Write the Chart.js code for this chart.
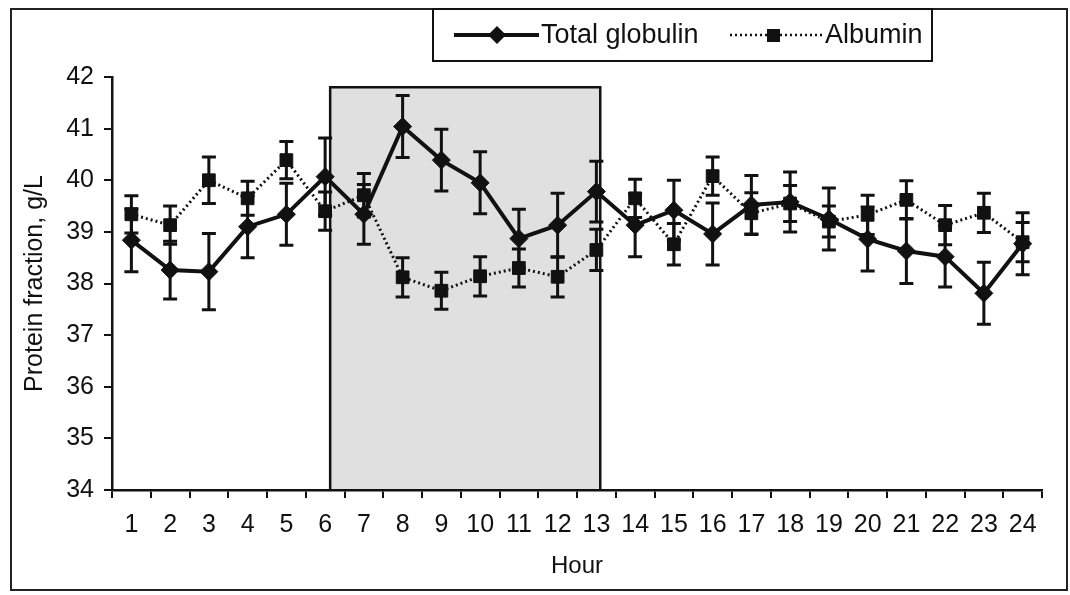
<!DOCTYPE html>
<html>
<head>
<meta charset="utf-8">
<script src="https://cdn.jsdelivr.net/npm/chart.js@4"></script>
<style>
  body { margin: 0; background: #fff; }
  canvas { display: block; }
</style>
</head>
<body>
<canvas id="chart" width="1070" height="595"></canvas>
<script>
// values
const hours = ['1','2','3','4','5','6','7','8','9','10','11','12','13','14','15','16','17','18','19','20','21','22','23','24'];
const globulin = [38.84, 38.26, 38.23, 39.10, 39.34, 40.07, 39.34, 41.04, 40.39, 39.95, 38.87, 39.13,
                  39.78, 39.13, 39.42, 38.96, 39.52, 39.58, 39.25, 38.86, 38.63, 38.52, 37.81, 38.77];
const globulinErr = [0.61, 0.56, 0.74, 0.60, 0.60, 0.75, 0.58, 0.60, 0.60, 0.60, 0.57, 0.62,
                     0.59, 0.61, 0.58, 0.60, 0.57, 0.58, 0.60, 0.62, 0.63, 0.59, 0.60, 0.60];
const albumin = [39.34, 39.13, 40.00, 39.65, 40.39, 39.40, 39.71, 38.12, 37.86, 38.14, 38.30, 38.13,
                 38.65, 39.65, 38.76, 40.08, 39.36, 39.55, 39.20, 39.33, 39.62, 39.13, 39.37, 38.80];
const albuminErr = [0.36, 0.37, 0.45, 0.33, 0.36, 0.37, 0.42, 0.38, 0.36, 0.38, 0.37, 0.39,
                    0.40, 0.37, 0.40, 0.37, 0.40, 0.35, 0.30, 0.38, 0.37, 0.38, 0.38, 0.38];
// shaded period (in hour units) and its top value
const shadeFrom = 6.13, shadeTo = 13.1, shadeTop = 41.8;

const ink = '#111';
const fontFam = "'Liberation Sans', Arial, sans-serif";

// grey box for the shaded hours + error bars
const extras = {
  id: 'extras',
  beforeDatasetsDraw(chart) {
    const ctx = chart.ctx, x = chart.scales.x, y = chart.scales.y;
    const x0 = x.getPixelForValue(shadeFrom - 1), x1 = x.getPixelForValue(shadeTo - 1);
    const yt = y.getPixelForValue(shadeTop), yb = y.getPixelForValue(34);
    ctx.save();
    ctx.fillStyle = '#e0e0e0';
    ctx.fillRect(x0, yt, x1 - x0, yb - yt - 1);
    ctx.strokeStyle = ink;
    ctx.lineWidth = 2.5;
    ctx.beginPath();
    ctx.moveTo(x0, yb); ctx.lineTo(x0, yt); ctx.lineTo(x1, yt); ctx.lineTo(x1, yb);
    ctx.stroke();

    const bars = [[globulin, globulinErr], [albumin, albuminErr]];
    ctx.lineWidth = 3;
    bars.forEach(([vals, errs]) => {
      vals.forEach((v, i) => {
        const px = x.getPixelForValue(i);
        const top = y.getPixelForValue(v + errs[i]), bot = y.getPixelForValue(v - errs[i]);
        ctx.beginPath();
        ctx.moveTo(px, top); ctx.lineTo(px, bot);
        ctx.moveTo(px - 7, top); ctx.lineTo(px + 7, top);
        ctx.moveTo(px - 7, bot); ctx.lineTo(px + 7, bot);
        ctx.stroke();
      });
    });
    ctx.restore();
  },
  afterDraw(chart) {
    const ctx = chart.ctx;
    ctx.save();
    ctx.strokeStyle = '#222';
    ctx.lineWidth = 2;
    ctx.strokeRect(11, 9, 1056, 581);

    // legend box
    ctx.fillStyle = '#fff';
    ctx.fillRect(433, 9, 499, 52);
    ctx.strokeStyle = ink;
    ctx.strokeRect(433, 9, 499, 52);
    const ly = 35;
    ctx.lineWidth = 4;
    ctx.beginPath(); ctx.moveTo(454, ly); ctx.lineTo(539, ly); ctx.stroke();
    ctx.fillStyle = ink;
    ctx.beginPath();
    ctx.moveTo(497, ly - 9); ctx.lineTo(506, ly); ctx.lineTo(497, ly + 9); ctx.lineTo(488, ly);
    ctx.closePath(); ctx.fill();
    ctx.lineWidth = 2.5;
    ctx.setLineDash([2, 3]);
    ctx.beginPath(); ctx.moveTo(730, ly); ctx.lineTo(823, ly); ctx.stroke();
    ctx.setLineDash([]);
    ctx.fillRect(767, ly - 6, 13, 13);
    ctx.font = '27px ' + fontFam;
    ctx.textBaseline = 'middle';
    ctx.fillText('Total globulin', 541, ly + 1);
    ctx.fillText('Albumin', 825, ly + 1);
    ctx.restore();
  }
};

new Chart(document.getElementById('chart'), {
  type: 'line',
  data: {
    labels: hours,
    datasets: [
      {
        label: 'Total globulin',
        data: globulin,
        borderColor: ink,
        backgroundColor: ink,
        borderWidth: 4,
        pointStyle: 'rectRot',
        pointRadius: 9,
        pointBorderWidth: 1,
        tension: 0
      },
      {
        label: 'Albumin',
        data: albumin,
        borderColor: ink,
        backgroundColor: ink,
        borderWidth: 3,
        borderDash: [2, 3],
        pointStyle: 'rect',
        pointRadius: 9,
        pointBorderWidth: 1,
        tension: 0
      }
    ]
  },
  options: {
    responsive: false,
    animation: false,
    layout: { padding: { left: 0, top: 77, right: 28, bottom: 0 } },
    plugins: {
      legend: { display: false },
      tooltip: { enabled: false }
    },
    scales: {
      x: {
        offset: true,
        grid: { offset: true, drawOnChartArea: false, tickLength: 8, color: ink, lineWidth: 2 },
        border: { color: ink, width: 2.5 },
        ticks: { color: ink, padding: 12, maxRotation: 0, autoSkip: false, font: { family: fontFam, size: 25 } },
        title: { display: true, text: 'Hour', color: ink, padding: { top: 0, bottom: 14 }, font: { family: fontFam, size: 24 } },
        afterFit(scale) { scale.height = 105; }
      },
      y: {
        min: 34,
        max: 42,
        ticks: { stepSize: 1, color: ink, padding: 10, font: { family: fontFam, size: 25 } },
        grid: { drawOnChartArea: false, tickLength: 8, color: ink, lineWidth: 2 },
        border: { color: ink, width: 2.5 },
        title: { display: true, text: 'Protein fraction, g/L', color: ink, padding: { top: 20, bottom: 0 }, font: { family: fontFam, size: 25 } },
        afterFit(scale) { scale.width = 112; }
      }
    }
  },
  plugins: [extras]
});
</script>
</body>
</html>
